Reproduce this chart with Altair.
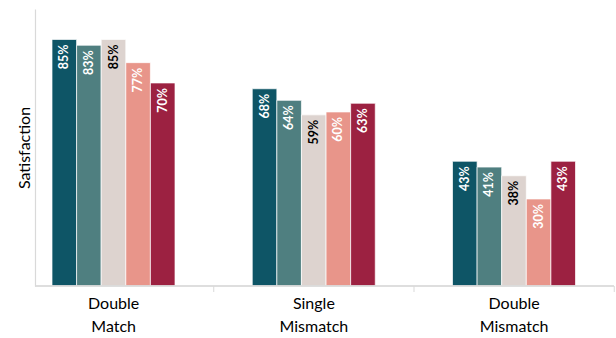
import altair as alt
import pandas as pd

FONT = "Lato"

categories = ["Double Match", "Single Mismatch", "Double Mismatch"]
series = ["Series 1", "Series 2", "Series 3", "Series 4", "Series 5"]
s1 = [0.85, 0.68, 0.43]
s2 = [0.83, 0.64, 0.41]
s3 = [0.85, 0.59, 0.38]
s4 = [0.77, 0.60, 0.30]
s5 = [0.70, 0.63, 0.43]
colors = ["#0E5566", "#4F7F80", "#DDD3CF", "#E8958A", "#9C2141"]

rows = []
for s, vals in zip(series, [s1, s2, s3, s4, s5]):
    for c, v in zip(categories, vals):
        rows.append({"category": c, "series": s, "value": v})
df = pd.DataFrame(rows)
cat_df = pd.DataFrame({"category": categories})

x_enc = alt.X(
    "category:N",
    sort=categories,
    scale=alt.Scale(range=[-21.5, 579.25], paddingInner=0, paddingOuter=0),
    axis=alt.Axis(
        title=None, domain=False, ticks=False, labelAngle=0,
        labelExpr="split(datum.label, ' ')",
        labelFontSize=16, labelLineHeight=23, labelPadding=9,
        labelColor="#000000", labelFont=FONT,
    ),
)
xo_enc = alt.XOffset("series:N", sort=series,
                     scale=alt.Scale(range=[38.5, 161.5], paddingInner=0, paddingOuter=0))
y_enc = alt.Y(
    "value:Q",
    scale=alt.Scale(domain=[0, 0.955], nice=False, zero=True),
    axis=alt.Axis(
        title="Satisfaction", domain=True, domainColor="#D9D9D9", domainWidth=1.2,
        ticks=False, labels=False, grid=False,
        titleFont=FONT, titleFontSize=16, titleFontWeight="normal",
        titleColor="#000000", titlePadding=3,
    ),
)

bars = alt.Chart(df).mark_bar(stroke="white", strokeWidth=0.7).encode(
    x=x_enc,
    xOffset=xo_enc,
    y=y_enc,
    color=alt.Color("series:N", sort=series,
                    scale=alt.Scale(domain=series, range=colors), legend=None),
)

labels = alt.Chart(df).mark_text(
    angle=270, align="right", baseline="middle", dx=-5,
    font=FONT, fontSize=12.5, fontWeight="bold",
).encode(
    x=x_enc,
    xOffset=xo_enc,
    y=y_enc,
    text=alt.Text("value:Q", format=".0%"),
    color=alt.condition("datum.series == 'Series 3'", alt.value("#000000"), alt.value("#FFFFFF")),
)

baseline = alt.Chart(cat_df).mark_rule(color="#D9D9D9", strokeWidth=1.2).encode(
    y=alt.datum(0)
)

ticks = alt.Chart(cat_df).mark_rule(color="#D9D9D9", strokeWidth=1).encode(
    x=alt.X("category:N", sort=categories, bandPosition=1),
    y=alt.value(277),
    y2=alt.value(283),
)

chart = alt.layer(bars, labels, baseline, ticks).properties(
    width=579, height=277,
    autosize=alt.AutoSizeParams(type="none"),
    padding={"left": 35, "top": 9, "right": 2, "bottom": 52},
).configure(background="white").configure_view(stroke="transparent", strokeWidth=0)

chart.save("out.html", embed_options={"renderer": "svg", "actions": False})
